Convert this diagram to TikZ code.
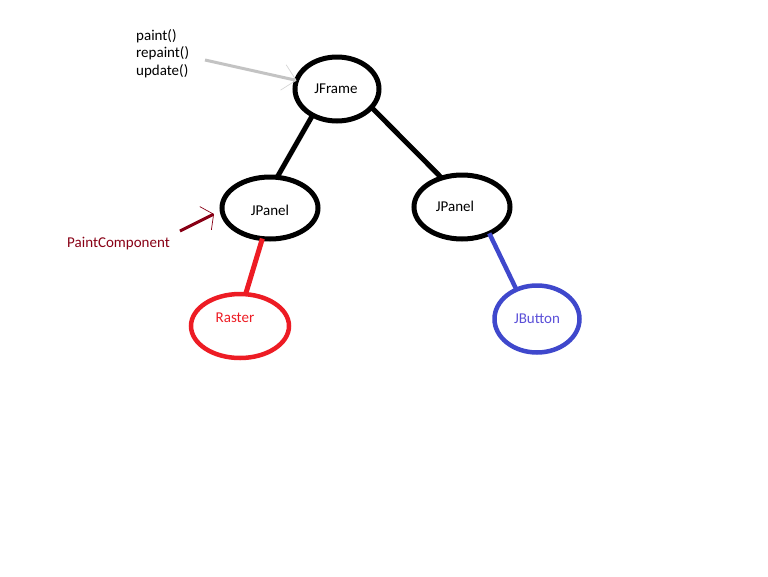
\documentclass[tikz,border=0pt]{standalone}
\usepackage{fontspec}
\setmainfont{Carlito}
\usetikzlibrary{shapes.geometric,arrows.meta}
\definecolor{paintred}{HTML}{ED1C24}
\definecolor{paintblue}{HTML}{3F48CC}
\definecolor{buttontext}{HTML}{5A4FD8}
\definecolor{darkred}{HTML}{880015}
\definecolor{lightgray}{HTML}{C3C3C3}
\tikzset{
  comp/.style={ellipse, draw=black, line width=5pt, inner sep=0pt, outer sep=0pt},
  tag/.style={font=\fontsize{15}{18}\selectfont, text=black, inner sep=0pt},
  link/.style={line width=5pt},
  note/.style={font=\fontsize{15}{17.5}\selectfont, inner sep=0pt, align=left},
}
\begin{document}
\begin{tikzpicture}[x=1pt,y=-1pt]
\useasboundingbox (0,0) rectangle (768,576);

% component tree
\node[comp, minimum width=84pt, minimum height=64pt] (jf) at (337,89) {};
\node[comp, minimum width=96pt, minimum height=62pt] (jpl) at (270,208) {};
\node[comp, minimum width=96pt, minimum height=64pt] (jpr) at (462,207) {};
\node[comp, draw=paintred, line width=4.5pt, minimum width=98pt, minimum height=64pt] (ras) at (240,326) {};
\node[comp, draw=paintblue, line width=4.5pt, minimum width=85pt, minimum height=67pt] (jb) at (537,319) {};

% captions inside the ellipses
\node[tag] (jft) at (336,89) {JFrame};
\node[tag] (jplt) at (270,210) {JPanel};
\node[tag] (jprt) at (455,206) {JPanel};
\node[tag, text=paintred] (rast) at (235,318) {Raster};
\node[tag, text=buttontext] (jbt) at (537,319) {JButton};

\draw[link] (jf.227) -- (jpl.77);
\draw[link] (jf.332) -- (jpr.125);
\draw[link, paintred] (jpl.256) -- (ras.80);
\draw[link, paintblue, line width=4.5pt] (jpr.316) -- (jb.125);

% method labels and pointers
\node[note, anchor=north west] (methods) at (136,29) {paint()\\repaint()\\update()};
\coordinate (gs) at (205,60);
\draw[lightgray, line width=3pt, -{Straight Barb[length=13pt, width=26pt, line width=0.7pt, color=lightgray!70]}] (gs) -- (jf.168);

\node[note, text=darkred, anchor=west] (pc) at (67,244) {PaintComponent};
\coordinate (rs) at (180,231);
\coordinate (re) at (214,214);
\draw[darkred, line width=3pt, -{Straight Barb[length=9pt, width=26pt, line width=0.7pt]}] (rs) -- (re);
\end{tikzpicture}
\end{document}
